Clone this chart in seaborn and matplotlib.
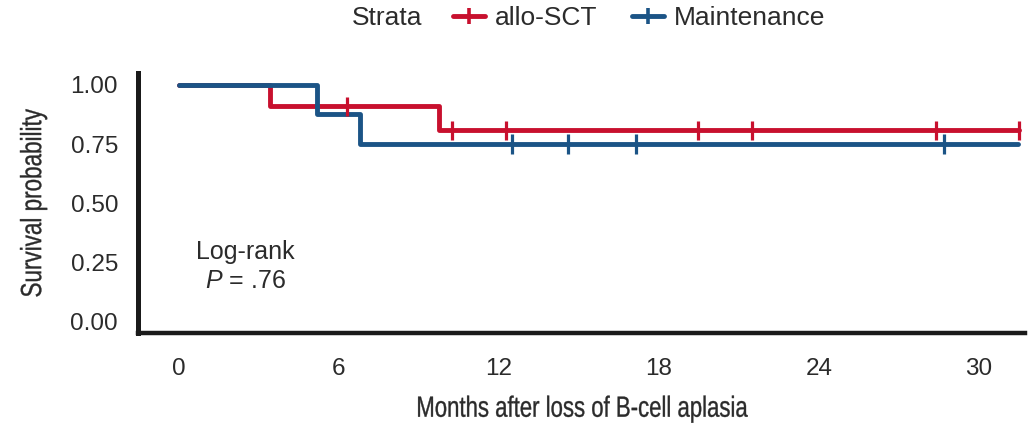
import numpy as np
import pandas as pd
import matplotlib
matplotlib.use("Agg")
import matplotlib.pyplot as plt
from matplotlib.lines import Line2D
from matplotlib.path import Path
from matplotlib.patheffects import AbstractPathEffect
from matplotlib.transforms import Affine2D
import seaborn as sns

# ---- data ----
groups = ["allo-SCT", "Maintenance"]
allo_times = [0, 3.42, 9.77, 31.5]
allo_surv = [1.0, 0.909, 0.808, 0.808]
allo_censor = [6.3, 10.25, 12.26, 19.45, 21.5, 28.4, 31.5]
maint_times = [0, 5.17, 6.8, 31.45]
maint_surv = [1.0, 0.875, 0.75, 0.75]
maint_censor = [12.49, 14.6, 17.13, 28.7]
x_ticks = [0, 6, 12, 18, 24, 30]
y_ticks = [0.00, 0.25, 0.50, 0.75, 1.00]
y_tick_labels = ["0.00", "0.25", "0.50", "0.75", "1.00"]

colors = {"allo-SCT": "#C8102E", "Maintenance": "#1B5486"}
text_color = "#2b2b2b"


class Condense(AbstractPathEffect):
    """Rescale rendered glyphs along the text direction (condensed face)."""

    def __init__(self, factor, axis="x", stroke=0.0):
        super().__init__()
        self.factor = factor
        self.axis = axis
        self.stroke = stroke

    def draw_path(self, renderer, gc, tpath, affine, rgbFace=None):
        verts = affine.transform(tpath.vertices)
        if tpath.codes is not None:
            verts = verts[tpath.codes != Path.CLOSEPOLY]
        cx = (verts[:, 0].min() + verts[:, 0].max()) / 2
        cy = (verts[:, 1].min() + verts[:, 1].max()) / 2
        sx, sy = (self.factor, 1) if self.axis == "x" else (1, self.factor)
        aff = affine + Affine2D().translate(-cx, -cy).scale(sx, sy).translate(cx, cy)
        gc0 = renderer.new_gc()
        gc0.copy_properties(gc)
        if self.stroke > 0 and rgbFace is not None:
            gc0.set_linewidth(self.stroke)
            gc0.set_foreground(rgbFace)
        renderer.draw_path(gc0, tpath, aff, rgbFace)
        gc0.restore()


def step_value(times, surv, t):
    idx = np.searchsorted(times, t, side="right") - 1
    return np.asarray(surv)[idx]


curve = pd.DataFrame({
    "time": allo_times + maint_times,
    "surv": allo_surv + maint_surv,
    "group": [groups[0]] * len(allo_times) + [groups[1]] * len(maint_times),
})
cens = pd.DataFrame({
    "time": allo_censor + maint_censor,
    "surv": list(step_value(allo_times, allo_surv, allo_censor)) +
            list(step_value(maint_times, maint_surv, maint_censor)),
    "group": [groups[0]] * len(allo_censor) + [groups[1]] * len(maint_censor),
})

sns.set_style("white")
plt.rcParams["font.family"] = ["Liberation Sans", "DejaVu Sans"]
plt.rcParams["mathtext.fontset"] = "custom"
plt.rcParams["mathtext.rm"] = "Liberation Sans"
plt.rcParams["mathtext.it"] = "Liberation Sans:italic"

fig = plt.figure(figsize=(10.33, 4.28), dpi=100)
ax = fig.add_axes([0.134, 0.2208, 0.8582, 0.6087])

sns.lineplot(data=curve, x="time", y="surv", hue="group", palette=colors,
             drawstyle="steps-post", estimator=None, linewidth=3.5,
             legend=False, ax=ax)
sns.scatterplot(data=cens, x="time", y="surv", hue="group", palette=colors,
                marker="|", s=190, linewidth=2.3, legend=False, ax=ax, zorder=5)

ax.set_xlim(-1.507, 31.72)
ax.set_ylim(-0.05, 1.05)
ax.set_xticks(x_ticks)
ax.set_xticklabels([str(v) for v in x_ticks])
ax.set_yticks(y_ticks)
ax.set_yticklabels(y_tick_labels)

for s in ["top", "right"]:
    ax.spines[s].set_visible(False)
ax.spines["left"].set_linewidth(3.6)
ax.spines["bottom"].set_linewidth(3.2)
for s in ["left", "bottom"]:
    ax.spines[s].set_color("#1a1a1a")
ax.tick_params(axis="both", which="major", width=1.8, color="#1a1a1a",
               labelsize=17.5, labelcolor=text_color, direction="out")
ax.tick_params(axis="y", length=7.5, pad=7.2)
ax.tick_params(axis="x", length=9, pad=8.5)

xl = ax.set_xlabel("Months after loss of B-cell aplasia", fontsize=21,
                   color=text_color)
yl = ax.set_ylabel("Survival probability", fontsize=21, color=text_color)
xl.set_path_effects([Condense(0.76, "x", stroke=0.25)])
yl.set_path_effects([Condense(0.77, "y", stroke=0.25)])
ax.xaxis.set_label_coords(0.5, -0.235)
ax.yaxis.set_label_coords(-0.103, 0.5)

ax.text(2.49, 0.295, "Log-rank", ha="center", va="center", fontsize=18,
        color=text_color)
ax.text(2.49, 0.17, r"$P$ = .76", ha="center", va="center", fontsize=18,
        color=text_color)

# legend
fig.text(0.341, 0.957, "Strata", ha="left", va="center", fontsize=19,
         color=text_color)
handles = [Line2D([0], [0], color=colors[g], linewidth=3.5, marker="|",
                  markersize=11, markeredgewidth=2.6) for g in groups]
fig.legend(handles, groups, loc="center left", bbox_to_anchor=(0.4385, 0.957),
           ncol=2, frameon=False, fontsize=19, handlelength=1.2,
           handletextpad=0.4, columnspacing=1.3, labelcolor=text_color,
           borderaxespad=0, borderpad=0)

fig.savefig("out.png", dpi=100)
